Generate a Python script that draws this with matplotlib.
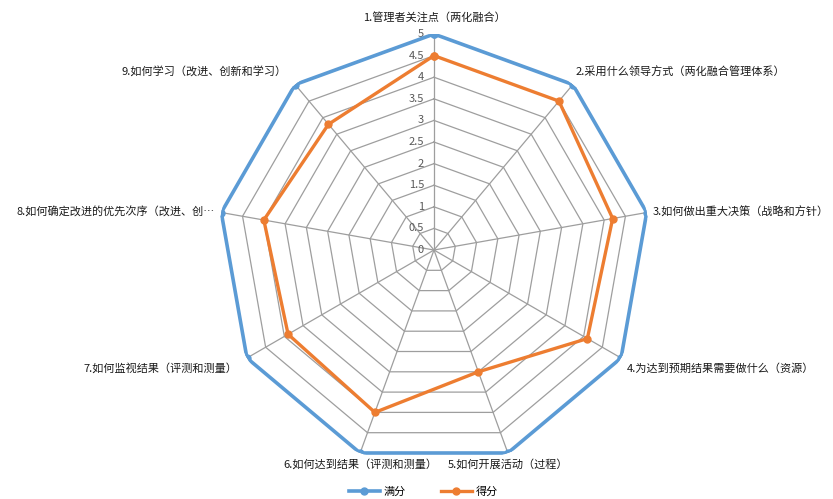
import numpy as np
import matplotlib
matplotlib.use('Agg')
import matplotlib.pyplot as plt

plt.rcParams['font.family'] = ['Noto Sans CJK SC', 'DejaVu Sans']

categories = [
    '1.管理者关注点（两化融合）',
    '2.采用什么领导方式（两化融合管理体系）',
    '3.如何做出重大决策（战略和方针）',
    '4.为达到预期结果需要做什么（资源）',
    '5.如何开展活动（过程）',
    '6.如何达到结果（评测和测量）',
    '7.如何监视结果（评测和测量）',
    '8.如何确定改进的优先次序（改进、创…',
    '9.如何学习（改进、创新和学习）',
]
full_score = [5, 5, 5, 5, 5, 5, 5, 5, 5]
score = [4.5, 4.5, 4.2, 4.1, 3, 4, 3.9, 4, 3.8]
ticks = [0, 0.5, 1, 1.5, 2, 2.5, 3, 3.5, 4, 4.5, 5]
tick_labels = ['0', '0.5', '1', '1.5', '2', '2.5', '3', '3.5', '4', '4.5', '5']

blue = '#5B9BD5'
orange = '#ED7D31'
grid_c = '#9E9E9E'

n = len(categories)
angles = np.linspace(0, 2 * np.pi, n, endpoint=False)
closed = np.append(angles, angles[0])

fig = plt.figure(figsize=(8.33, 4.99), dpi=100)
ax = fig.add_axes([0.2617, 0.0661, 0.5186, 0.8657], projection='polar')
ax.set_theta_zero_location('N')
ax.set_theta_direction(-1)
ax.set_ylim(0, 5)
ax.grid(False)
ax.set_xticks([])
ax.set_yticks([])
ax.spines['polar'].set_visible(False)

# polygon rings and spokes
for t in ticks[1:]:
    ax.plot(closed, [t] * (n + 1), color=grid_c, lw=0.9, zorder=1)
for a in angles:
    ax.plot([a, a], [0, 5], color=grid_c, lw=0.9, zorder=1)

# radial tick labels along the first spoke
for t, lab in zip(ticks, tick_labels):
    ax.annotate(lab, xy=(0, t), xytext=(-10, 0), textcoords='offset pixels',
                ha='right', va='center', fontsize=8, color='#595959', zorder=2)

ax.plot(closed, full_score + full_score[:1], color=blue, lw=2.6,
        marker='o', markersize=5, zorder=3, label='满分')
ax.plot(closed, score + score[:1], color=orange, lw=2.4,
        marker='o', markersize=5, zorder=4, label='得分')

# category label placement (pixel offsets from each outer vertex)
offsets = [(0, 17), (3, 13), (6, 0), (6, -10), (0, -11),
           (0, -11), (-10, -10), (-7, 0), (-9, 13)]
aligns = ['center', 'left', 'left', 'left', 'center',
          'center', 'right', 'right', 'right']
for a, lab, off, ha in zip(angles, categories, offsets, aligns):
    ax.annotate(lab, xy=(a, 5), xytext=off, textcoords='offset pixels',
                ha=ha, va='center', fontsize=8, color='#1a1a1a',
                annotation_clip=False)

fig.legend(loc='lower center', ncol=2, frameon=False, fontsize=8,
           bbox_to_anchor=(0.508, -0.015), handlelength=2.8,
           handletextpad=0.3, columnspacing=3.2)

fig.savefig('out.png', dpi=100, facecolor='white')
